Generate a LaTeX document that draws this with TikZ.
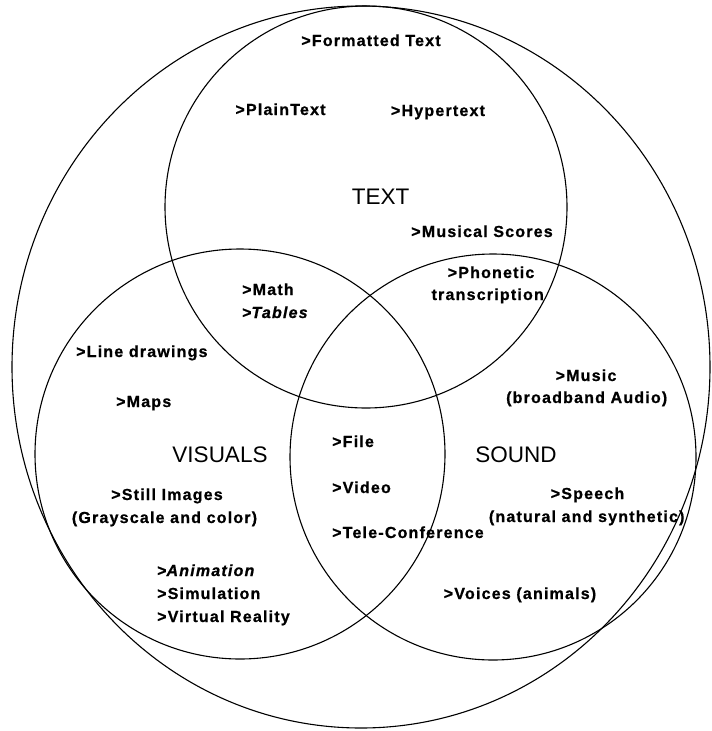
\documentclass[tikz,border=0pt]{standalone}
\usepackage{fontspec}
\setmainfont{Liberation Sans}
\newfontfamily\itemfont[LetterSpace=7.5, FakeBold=0.8,
  ItalicFont={Liberation Sans Bold Italic}]{Liberation Sans Bold}
\tikzset{
  ring/.style={draw=black, line width=1.1pt},
  itm/.style={font=\itemfont\fontsize{16}{19}\selectfont, inner sep=0pt, anchor=base},
  itmL/.style={itm, anchor=base west},
  head/.style={font=\fontsize{22.5}{27}\selectfont, inner sep=0pt, anchor=base}
}
\begin{document}
\begin{tikzpicture}[x=1pt, y=-1pt]
  \useasboundingbox (0,0) rectangle (712,731);
  % outer frame and the three overlapping sets
  \draw[ring] (361,367) ellipse [x radius=349pt, y radius=361pt];
  \draw[ring] (366,207) circle [radius=201pt];
  \draw[ring] (240,454) circle [radius=205pt];
  \draw[ring] (493,457) circle [radius=203pt];

  % TEXT set
  \node[itm] (fmt) at (371,46) {>Formatted Text};
  \node[itm] (plain) at (280.5,115) {>PlainText};
  \node[itm] (hyper) at (438,116) {>Hypertext};
  \node[head] (texthead) at (380.5,204) {TEXT};
  \node[itm] (scores) at (482,237) {>Musical Scores};

  % TEXT and SOUND
  \node[itm] (phon) at (491,278) {>Phonetic};
  \node[itm] (trans) at (487.7,300) {transcription};

  % TEXT and VISUALS
  \node[itmL] (math) at (242,295) {>Math};
  \node[itmL] (tables) at (242,318) {>\itshape Tables};

  % VISUALS set
  \node[itmL] (lines) at (76,357) {>Line drawings};
  \node[itmL] (maps) at (116,407) {>Maps};
  \node[head] (vishead) at (220,462) {VISUALS};
  \node[itm] (still) at (167,500) {>Still Images};
  \node[itm] (gray) at (164.5,523) {(Grayscale and color)};
  \node[itmL] (anim) at (157,576) {>\itshape Animation};
  \node[itmL] (simu) at (157,599) {>Simulation};
  \node[itmL] (vr) at (157,622) {>Virtual Reality};

  % VISUALS and SOUND
  \node[itmL] (file) at (332,447) {>File};
  \node[itmL] (video) at (332,493) {>Video};
  \node[itmL] (tele) at (332,538) {>Tele-Conference};

  % SOUND set
  \node[itm] (music) at (586,381) {>Music};
  \node[itm] (broad) at (586.7,403) {(broadband Audio)};
  \node[head] (soundhead) at (516,462) {SOUND};
  \node[itm] (speech) at (587.5,499) {>Speech};
  \node[itm] (natural) at (586.7,522) {(natural and synthetic)};
  \node[itm] (voices) at (520,599) {>Voices (animals)};
\end{tikzpicture}
\end{document}
